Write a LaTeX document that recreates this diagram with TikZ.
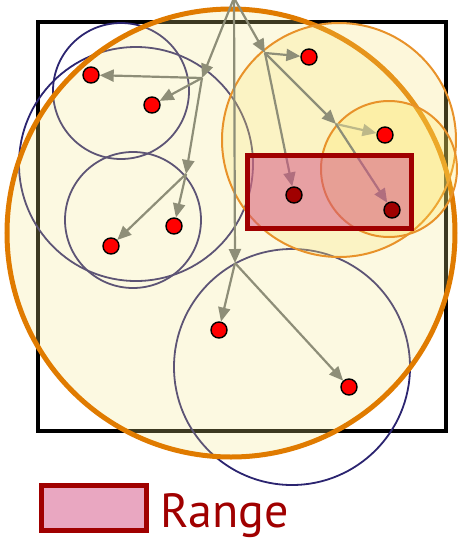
\documentclass[tikz,border=0pt]{standalone}
\usepackage{fontspec}
\setmainfont{PT Sans}
\usetikzlibrary{arrows.meta}
\pgfdeclarelayer{back}
\pgfsetlayers{back,main}
\definecolor{bound}{HTML}{E07B00}
\definecolor{boundlt}{HTML}{E8922A}
\definecolor{child}{HTML}{2B2470}
\definecolor{cream}{HTML}{F3E787}
\definecolor{butter}{HTML}{F8E16D}
\definecolor{lemon}{HTML}{FFE754}
\definecolor{linkgray}{HTML}{8E8E78}
\definecolor{linklt}{HTML}{BDB889}
\definecolor{rangered}{HTML}{A00000}
\definecolor{rangefill}{HTML}{D45084}

\begin{document}
\begin{tikzpicture}[x=1pt,y=-1pt,>={Triangle[length=14pt,width=12pt]},
  pt/.style={circle,draw=black,line width=1.4pt,fill=red,inner sep=0pt,minimum size=16pt},
  hit/.style={pt,fill=rangered},
  link/.style={->,line width=2.2pt,draw=linkgray},
  ball/.style={draw=child,line width=1.8pt},
  subball/.style={draw=boundlt,line width=2pt,fill opacity=.25}]
  \useasboundingbox (0,0) rectangle (458,542);
  \draw[draw=rangered,line width=5pt,fill=rangefill,fill opacity=.5] (247.5,155.5) rectangle (411.5,228.5);

  \coordinate (r) at (234,-2);
  \coordinate (a) at (202,78);
  \coordinate (b) at (186,174);
  \coordinate (c) at (265,53);
  \coordinate (d) at (336,124);
  \coordinate (e) at (235,263);
  \node[pt] (p1) at (91,75) {};
  \node[pt] (p2) at (152,105) {};
  \node[pt] (p3) at (111,246) {};
  \node[pt] (p4) at (174,226) {};
  \node[pt] (p5) at (309,57) {};
  \node[pt] (p6) at (385,135) {};
  \node[hit] (p7) at (294,195) {};
  \node[hit] (p8) at (392,210) {};
  \node[pt] (p9) at (219,330) {};
  \node[pt] (p10) at (349,387) {};

  \begin{pgfonlayer}{back}
    \draw[line width=4.5pt] (38,22) rectangle (446,431);
    \draw[ball] (121,91) circle[radius=68];
    \draw[ball] (136,164) circle[radius=117];
    \draw[ball] (133,220) circle[radius=68];
    \draw[ball] (292,367) circle[radius=118];
    \draw[draw=bound,line width=5pt,fill=cream,fill opacity=.25] (231,233) circle[radius=224];
    \draw[subball,fill=butter] (339,140) circle[radius=117];
    \draw[subball,fill=lemon] (389,169) circle[radius=68];

    \draw[link] (r)--(a);
    \draw[link] (r)--(c);
    \draw[link] (r)--(e);
    \draw[link] (a)--(p1);
    \draw[link] (a)--(p2);
    \draw[link] (a)--(b);
    \draw[link] (b)--(p3);
    \draw[link] (b)--(p4);
    \draw[link] (c)--(p5);
    \draw[link] (c)--(d);
    \draw[link,draw=linklt] (d)--(p6);
    \draw[link] (c)--(p7);
    \draw[link] (d)--(p8);
    \draw[link] (e)--(p9);
    \draw[link] (e)--(p10);
  \end{pgfonlayer}

  \node[draw=rangered,line width=5pt,fill=rangefill,fill opacity=.5,minimum width=105pt,minimum height=45pt,inner sep=0pt] (key) at (94,508) {};
  \node[anchor=base west,text=rangered,font=\fontsize{48}{50}\selectfont,inner sep=0pt] (lbl) at (160,527) {Range};
\end{tikzpicture}
\end{document}
